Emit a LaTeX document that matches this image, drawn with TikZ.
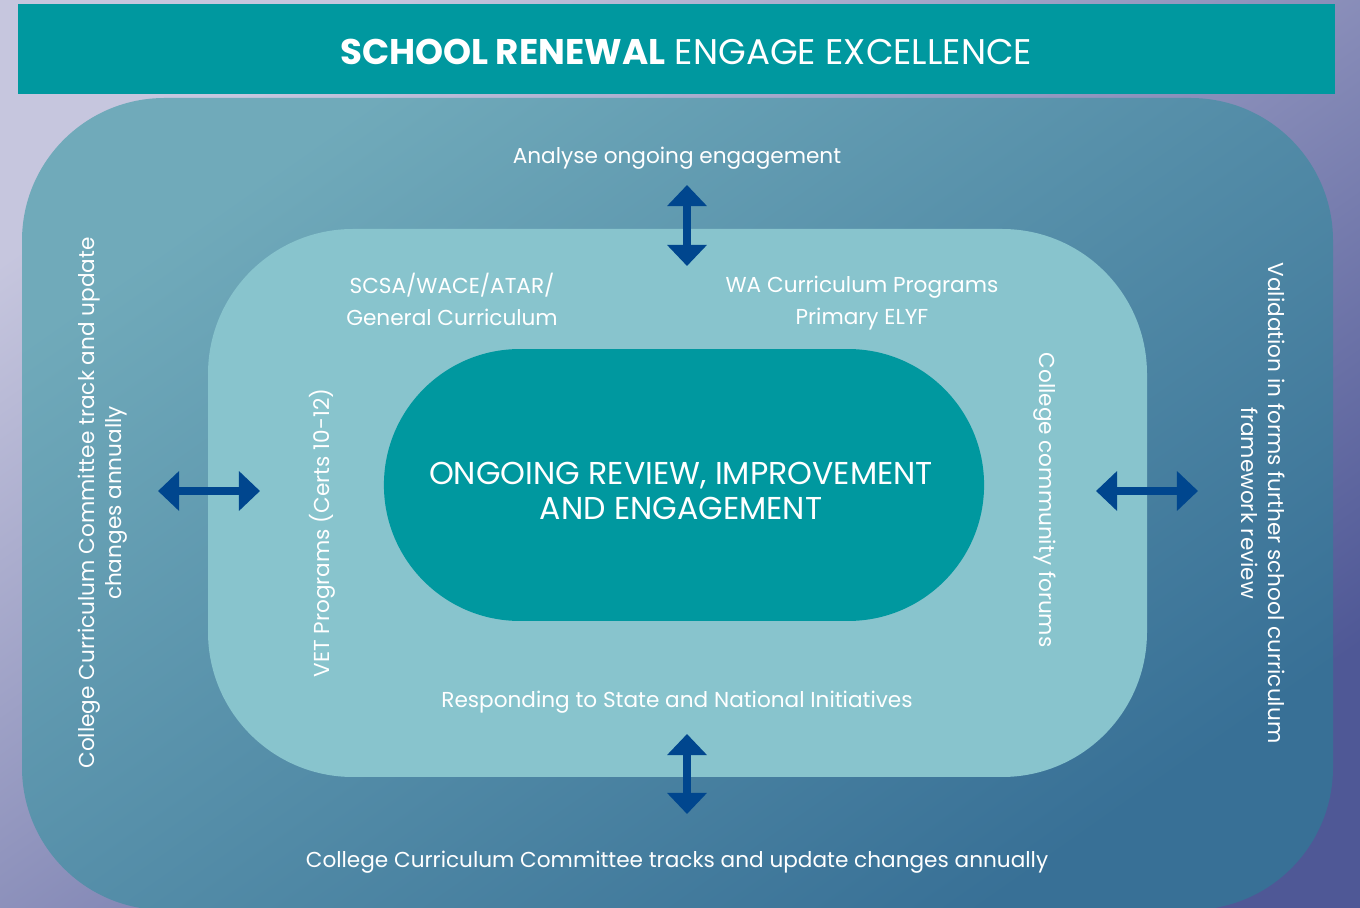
\documentclass[tikz,border=0pt]{standalone}
\usepackage{fontspec}
\setmainfont{Poppins}
\usetikzlibrary{arrows.meta,shapes.misc}
\definecolor{bgtl}{HTML}{C6C6DE}
\definecolor{bgbr}{HTML}{4F5896}
\definecolor{outertl}{HTML}{70AABA}
\definecolor{outerbr}{HTML}{387096}
\definecolor{innerfill}{HTML}{88C4CD}
\definecolor{titleteal}{HTML}{00989F}
\definecolor{arrowblue}{HTML}{00468E}
\tikzset{
  lbltext/.style={text=white, align=center, inner sep=0pt,
    font=\fontsize{12.3}{18.2}\selectfont},
  sidetext/.style={lbltext, font=\fontsize{12.3}{15.3}\selectfont},
  twoway/.style={draw=arrowblue, line width=4pt,
    {Triangle[length=12pt,width=22pt]}-{Triangle[length=12pt,width=22pt]}},
}
\begin{document}
\begin{tikzpicture}[x=0.02cm, y=-0.02cm]
\useasboundingbox (0,0) rectangle (1360,908);
\clip (0,0) rectangle (1360,908);
% background and frames
\shade[left color=bgtl, right color=bgbr, shading angle=35] (0,0) rectangle (1360,908);
\fill[titleteal] (18,4) rectangle (1335,94);
\shade[left color=outertl, right color=outerbr, shading angle=35, rounded corners=2.85cm] (22,98) rectangle (1333,910);
\fill[innerfill, rounded corners=2.9cm] (208,229) rectangle (1147,777);
\node[rounded rectangle, fill=titleteal, minimum width=12.24cm, minimum height=5.44cm] (review) at (684,485) {};
\node[text=white, align=center, font=\fontsize{18}{20}\selectfont] (reviewtext) at (681,491)
  {ONGOING REVIEW, IMPROVEMENT\\AND ENGAGEMENT};
\node[text=white, font=\fontsize{20.3}{22}\selectfont] (title) at (686,52)
  {\textbf{SCHOOL RENEWAL} ENGAGE EXCELLENCE};
% labels
\node[lbltext] (analyse) at (677,158) {Analyse ongoing engagement};
\node[lbltext] (scsa) at (452,299) {SCSA/WACE/ATAR/\\General Curriculum};
\node[lbltext] (wacp) at (862,303) {WA Curriculum Programs\\Primary ELYF};
\node[lbltext, rotate=90] (vet) at (322,533) {VET Programs (Certs 10-12)};
\node[lbltext, rotate=-90] (forums) at (1045,500) {College community forums};
\node[lbltext] (respond) at (677,702) {Responding to State and National Initiatives};
\node[lbltext] (cccbottom) at (677,862) {College Curriculum Committee tracks and update changes annually};
\node[sidetext, rotate=90] (cccleft) at (103,503) {College Curriculum Committee track and update\\changes annually};
\node[sidetext, rotate=-90] (validation) at (1263,503) {Validation in forms further school curriculum\\framework review};
% arrows
\coordinate (topa) at (687,185);
\coordinate (topb) at (687,266);
\coordinate (bota) at (687,734);
\coordinate (botb) at (687,814);
\coordinate (lefta) at (158,491);
\coordinate (leftb) at (260,491);
\coordinate (righta) at (1096,491);
\coordinate (rightb) at (1198,491);
\draw[twoway] (topa) -- (topb);
\draw[twoway] (bota) -- (botb);
\draw[twoway] (lefta) -- (leftb);
\draw[twoway] (righta) -- (rightb);
\end{tikzpicture}
\end{document}
